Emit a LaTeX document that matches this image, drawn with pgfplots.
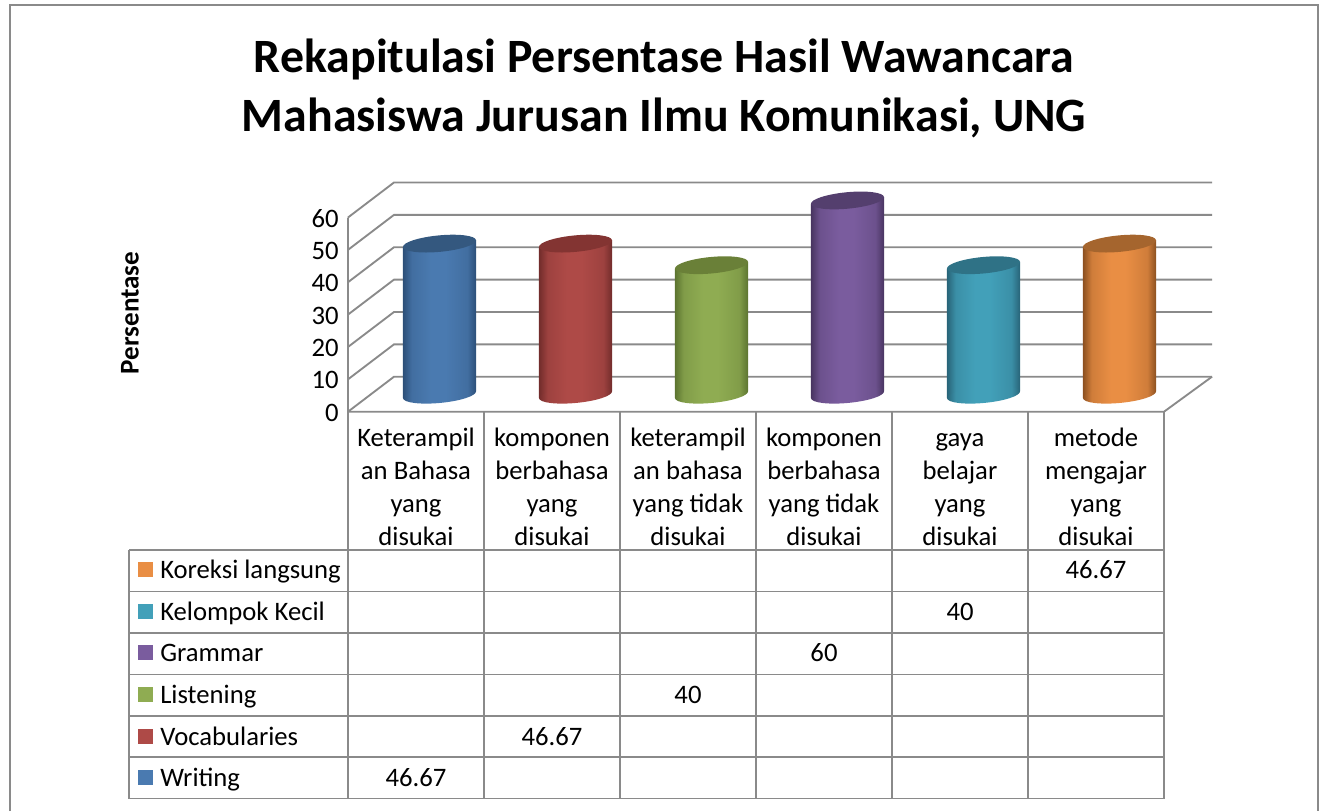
\documentclass[border=0pt]{standalone}
\usepackage{fontspec}
\setmainfont{Carlito}
\usepackage{pgfplots}
\pgfplotsset{compat=1.18}
\definecolor{gridc}{HTML}{8A8A8A}
\newcommand\cylpath{\pgfpathellipse{\pgfpointorigin}{\pgfqpoint{27.37pt}{2.58pt}}{\pgfqpoint{-0.58pt}{6.15pt}}}
\newcommand\defcyl[4]{%
  \definecolor{e#1}{HTML}{#2}\definecolor{c#1}{HTML}{#3}\definecolor{t#1}{HTML}{#4}%
  \colorlet{m#1}{c#1!72!e#1}%
  \pgfdeclarehorizontalshading{shade#1}{100bp}{color(0bp)=(e#1); color(25bp)=(e#1); color(31bp)=(m#1); color(44bp)=(c#1); color(54bp)=(c#1); color(69bp)=(m#1); color(75bp)=(e#1); color(100bp)=(e#1)}%
  \pgfdeclareplotmark{cylb#1}{\cylpath\pgfshadepath{shade#1}{0}\pgfusepath{discard}}%
  \pgfdeclareplotmark{cylt#1}{\cylpath\pgfsetfillcolor{t#1}\pgfusepathqfill}%
}
\defcyl{A}{2C4F78}{4A7AB0}{34587F}
\defcyl{B}{722C2B}{AE4A47}{833432}
\defcyl{C}{5C7430}{8FAC52}{6A8038}
\defcyl{D}{483460}{7A5C9E}{543F6E}
\defcyl{E}{286478}{42A0B9}{2F7286}
\defcyl{F}{8C5020}{E98E44}{A5652E}
% left edge, centre, right edge, value, colour set
\newcommand\cyl[5]{%
  \addplot[only marks, mark=cylb#5, xshift=17.625pt, yshift=12.75pt] coordinates {(#2,0)};
  \addplot[draw=none, shading=shade#5,
     xshift=17.625pt, yshift={12.75pt-0.094*(#2*136)*0.75pt}, yslant=0.094]
     coordinates {(#1,0) (#1,#4) (#3,#4) (#3,0)} -- cycle;
  \addplot[only marks, mark=cylt#5, xshift=17.625pt, yshift=12.75pt] coordinates {(#2,#4)};
}
\newcommand\tablefont{\fontsize{20pt}{24.75pt}\selectfont}
\begin{document}
\begin{tikzpicture}[x=0.75pt,y=-0.75pt]
\path (0,0) rectangle (1319,811);
% chart frame
\draw[gridc,line width=1.3pt] (10,811) -- (10,5) -- (1318,5) -- (1318,811);
% title
\node[font=\fontsize{35.9pt}{44.4pt}\selectfont\bfseries,align=center,anchor=center] at (664,88.5)
  {Rekapitulasi Persentase Hasil Wawancara\\Mahasiswa Jurusan Ilmu Komunikasi, UNG};
\node[font=\fontsize{20.3pt}{24pt}\selectfont\bfseries,rotate=90,anchor=center] at (130,313) {Persentase};
% walls and floor
\foreach \k in {0,...,6} {
  \pgfmathsetmacro\yf{411.7-32.37*\k}
  \draw[gridc,line width=1.4pt] (348,\yf) -- (394,\yf-35) -- (1212,\yf-35);
}
\draw[gridc,line width=1.4pt] (348,217.5) -- (348,411.7) -- (1164,411.7) -- (1212,376.7);
% table
\foreach \xx in {348,484,620,756,892,1028,1164}
  \draw[gridc,line width=1.4pt] (\xx,411.7) -- (\xx,798.5);
\foreach \yy in {550,591.5,633,674.5,716,757,798.5}
  \draw[gridc,line width=1.4pt] (129,\yy) -- (1164,\yy);
\draw[gridc,line width=1.4pt] (129,550) -- (129,798.5);
% table legend
\foreach \yy/\cc/\tt in {
   578.5/F/Koreksi langsung, 620/E/Kelompok Kecil, 661.5/D/Grammar,
   703/C/Listening, 745/B/Vocabularies, 786/A/Writing} {
  \fill[c\cc] (138,\yy-16.5) rectangle (153,\yy-1.5);
  \node[font=\tablefont,anchor=base west,inner sep=0pt] at (160,\yy) {\tt};
}
\foreach \xx/\yy/\vv in {416/786/46.67, 552/745/46.67, 688/703/40, 824/661.5/60, 960/620/40, 1096/578.5/46.67}
  \node[font=\tablefont,anchor=base,inner sep=0pt] at (\xx,\yy) {\vv};
\coordinate (o) at (348,411.7);
\begin{axis}[
  at={(o)}, anchor=south west, scale only axis,
  width=612pt, height=145.7pt,
  xmin=0, xmax=6, ymin=0, ymax=60, clip=false,
  axis line style={draw=none}, major tick length=0pt,
  tick style={draw=none},
  ytick={0,10,...,60},
  xtick={0.5,1.5,2.5,3.5,4.5,5.5},
  xticklabels={{\strut Keterampil\\an Bahasa\\yang\\disukai},
    {\strut komponen\\berbahasa\\yang\\disukai},
    {\strut keterampil\\an bahasa\\yang tidak\\disukai},
    {\strut komponen\\berbahasa\\yang tidak\\disukai},
    {\strut gaya\\belajar\\yang\\disukai},
    {\strut metode\\mengajar\\yang\\disukai}},
  x tick label style={font=\tablefont,align=center,anchor=north,yshift=-5pt},
  y tick label style={font=\tablefont,xshift=-3.5pt,yshift=-0.7pt},
  /pgf/number format/assume math mode=true,
]
\cyl{0.231}{0.5}{0.769}{46.67}{A}
\cyl{1.231}{1.5}{1.769}{46.67}{B}
\cyl{2.231}{2.5}{2.769}{40}{C}
\cyl{3.231}{3.5}{3.769}{60}{D}
\cyl{4.231}{4.5}{4.769}{40}{E}
\cyl{5.231}{5.5}{5.769}{46.67}{F}
\end{axis}
\end{tikzpicture}
\end{document}
